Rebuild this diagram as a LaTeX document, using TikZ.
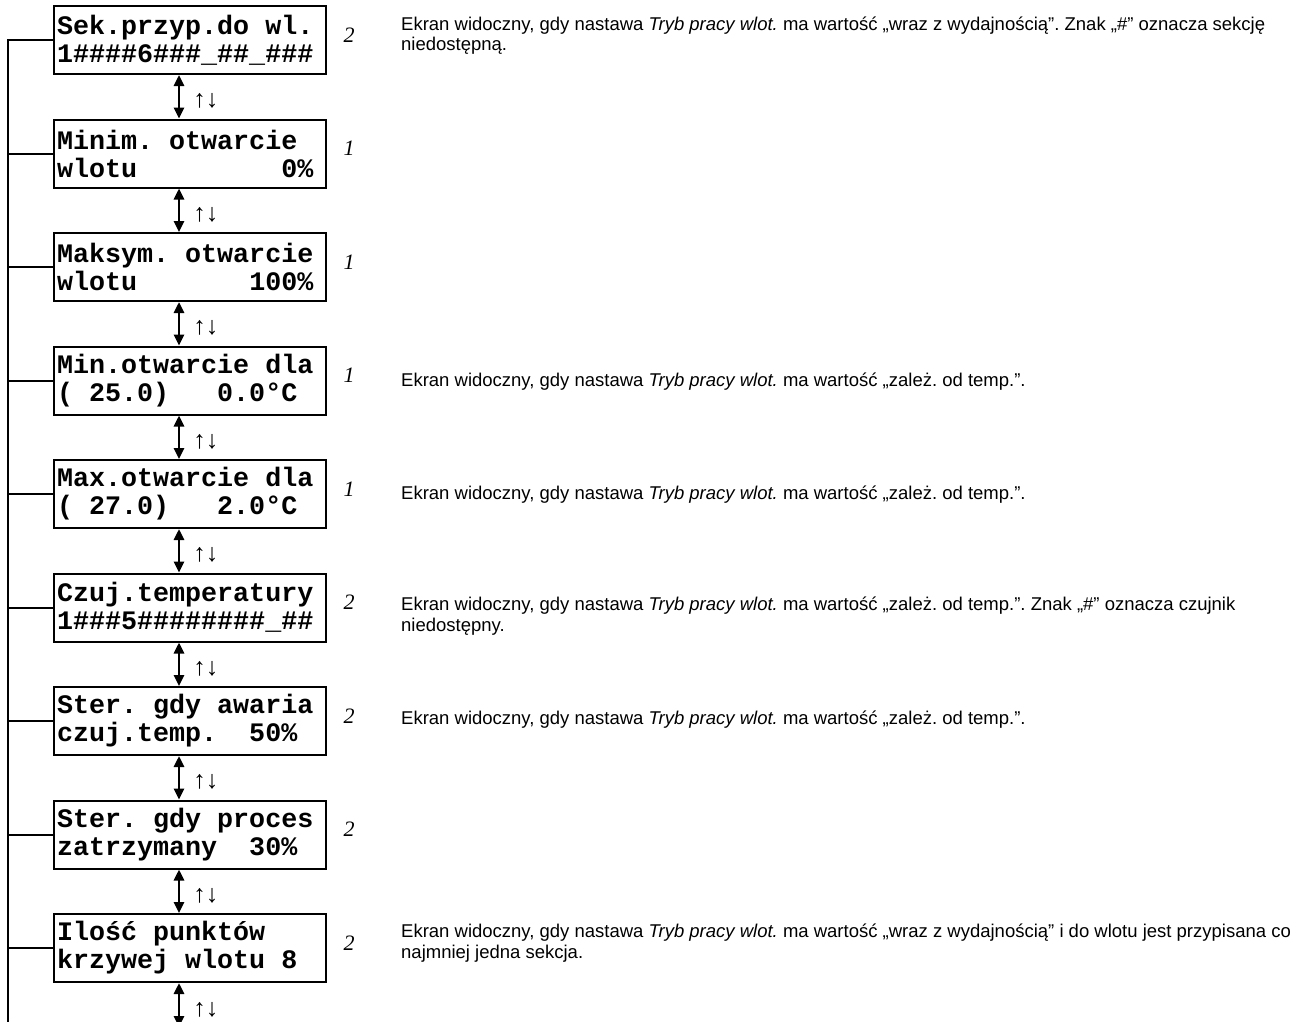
\documentclass[tikz,border=0pt]{standalone}
\usepackage{fontspec}
\setmainfont{Liberation Sans}
\newfontfamily\lcdfont{Liberation Mono}
\newfontfamily\seriffont{Liberation Serif}
\usetikzlibrary{arrows.meta,calc}
\newcommand\lcdgap[1][1]{\hspace*{#1\dimexpr 0.6em\relax}}

\begin{document}
\begin{tikzpicture}[
    x=1pt, y=-1pt,
    screen/.style={draw, line width=2pt, minimum height=68pt, text width=266pt, inner xsep=3pt, inner ysep=0pt, align=left, font=\lcdfont\bfseries\fontsize{26.7}{28}\selectfont},
    lvl/.style={anchor=base, inner sep=0pt, font=\seriffont\itshape\fontsize{22}{22}\selectfont},
    note/.style={anchor=base west, align=left, inner sep=0pt, font=\fontsize{18.5}{20.7}\selectfont\frenchspacing},
    arrow/.style={{Triangle[length=11pt,width=10pt]}-{Triangle[length=11pt,width=10pt]}, line width=2.6pt},
    updn/.style={anchor=west, inner sep=0pt, pos=0.6, xshift=13pt, font=\seriffont\fontsize{25}{25}\selectfont},
    bus/.style={line width=2pt},
]
\useasboundingbox (0,0) rectangle (1301,1021);
\clip (0,0) rectangle (1301,1021);

\node[screen] (sek)     at (190,40)    {Sek.przyp.do\lcdgap wl.\\1\#\#\#\#6\#\#\#\_\#\#\_\#\#\#};
\node[screen] (minotw)  at (190,153.5) {Minim.\lcdgap otwarcie\\wlotu\lcdgap[9]0\%};
\node[screen] (maxotw)  at (190,267)   {Maksym.\lcdgap otwarcie\\wlotu\lcdgap[7]100\%};
\node[screen] (mintemp) at (190,380.5) {Min.otwarcie\lcdgap dla\\(\lcdgap 25.0)\lcdgap[3]0.0°C};
\node[screen] (maxtemp) at (190,494)   {Max.otwarcie\lcdgap dla\\(\lcdgap 27.0)\lcdgap[3]2.0°C};
\node[screen] (czuj)    at (190,607.5) {Czuj.temperatury\\1\#\#\#5\#\#\#\#\#\#\#\#\_\#\#};
\node[screen] (awaria)  at (190,721)   {Ster.\lcdgap gdy\lcdgap awaria\\czuj.temp.\lcdgap[2]50\%};
\node[screen] (proces)  at (190,834.5) {Ster.\lcdgap gdy\lcdgap proces\\zatrzymany\lcdgap[2]30\%};
\node[screen] (punkty)  at (190,948)   {Ilość\lcdgap punktów\\krzywej\lcdgap wlotu\lcdgap 8};

\node[lvl] (lsek)     at (349,42)    {2};
\node[lvl] (lminotw)  at (349,155.5) {1};
\node[lvl] (lmaxotw)  at (349,269)   {1};
\node[lvl] (lmintemp) at (349,382.5) {1};
\node[lvl] (lmaxtemp) at (349,496)   {1};
\node[lvl] (lczuj)    at (349,609.5) {2};
\node[lvl] (lawaria)  at (349,723)   {2};
\node[lvl] (lproces)  at (349,836.5) {2};
\node[lvl] (lpunkty)  at (349,950)   {2};

\node[note] (tsek) at (401,50.7) {Ekran widoczny, gdy nastawa \textit{Tryb pracy wlot.} ma wartość „wraz z wydajnością”. Znak „\#” oznacza sekcję\\niedostępną.};
\node[note] (tmintemp) at (401,386.5) {Ekran widoczny, gdy nastawa \textit{Tryb pracy wlot.} ma wartość „zależ. od temp.”.};
\node[note] (tmaxtemp) at (401,499) {Ekran widoczny, gdy nastawa \textit{Tryb pracy wlot.} ma wartość „zależ. od temp.”.};
\node[note] (tczuj) at (401,631) {Ekran widoczny, gdy nastawa \textit{Tryb pracy wlot.} ma wartość „zależ. od temp.”. Znak „\#” oznacza czujnik\\niedostępny.};
\node[note] (tawaria) at (401,724) {Ekran widoczny, gdy nastawa \textit{Tryb pracy wlot.} ma wartość „zależ. od temp.”.};
\node[note] (tpunkty) at (401,958) {Ekran widoczny, gdy nastawa \textit{Tryb pracy wlot.} ma wartość „wraz z wydajnością” i do wlotu jest przypisana co\\najmniej jedna sekcja.};

\coordinate (busend) at (8,1030);
\coordinate (tail) at (179,1027);

\draw[bus] (sek.west) -| (busend);
\draw[bus] (minotw.west) -- (minotw.west -| busend);
\draw[bus] (maxotw.west) -- (maxotw.west -| busend);
\draw[bus] (mintemp.west) -- (mintemp.west -| busend);
\draw[bus] (maxtemp.west) -- (maxtemp.west -| busend);
\draw[bus] (czuj.west) -- (czuj.west -| busend);
\draw[bus] (awaria.west) -- (awaria.west -| busend);
\draw[bus] (proces.west) -- (proces.west -| busend);
\draw[bus] (punkty.west) -- (punkty.west -| busend);

\draw[arrow] ([xshift=-11pt]sek.south) -- node[updn] (ud1) {↑↓} ([xshift=-11pt]minotw.north);
\draw[arrow] ([xshift=-11pt]minotw.south) -- node[updn] (ud2) {↑↓} ([xshift=-11pt]maxotw.north);
\draw[arrow] ([xshift=-11pt]maxotw.south) -- node[updn] (ud3) {↑↓} ([xshift=-11pt]mintemp.north);
\draw[arrow] ([xshift=-11pt]mintemp.south) -- node[updn] (ud4) {↑↓} ([xshift=-11pt]maxtemp.north);
\draw[arrow] ([xshift=-11pt]maxtemp.south) -- node[updn] (ud5) {↑↓} ([xshift=-11pt]czuj.north);
\draw[arrow] ([xshift=-11pt]czuj.south) -- node[updn] (ud6) {↑↓} ([xshift=-11pt]awaria.north);
\draw[arrow] ([xshift=-11pt]awaria.south) -- node[updn] (ud7) {↑↓} ([xshift=-11pt]proces.north);
\draw[arrow] ([xshift=-11pt]proces.south) -- node[updn] (ud8) {↑↓} ([xshift=-11pt]punkty.north);
\draw[arrow] ([xshift=-11pt]punkty.south) -- node[updn] (ud9) {↑↓} (tail);

\end{tikzpicture}
\end{document}
